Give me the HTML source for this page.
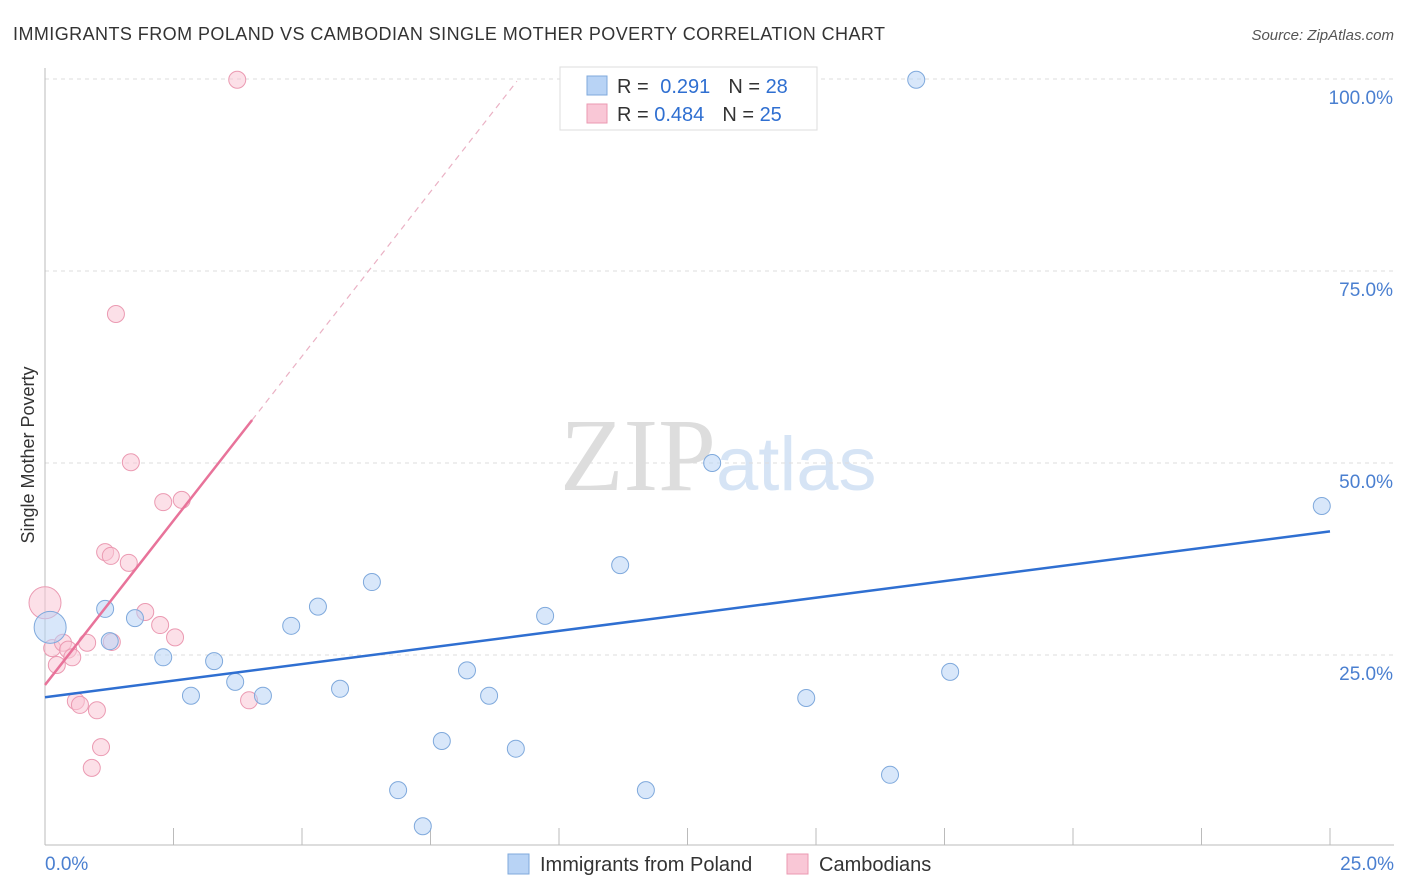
<!DOCTYPE html>
<html><head><meta charset="utf-8">
<style>
body{margin:0;background:#fff;font-family:"Liberation Sans",sans-serif;}
#wrap{position:relative;width:1406px;height:892px;overflow:hidden;}
</style></head>
<body>
<div id="wrap">
<svg id="svg" width="1406" height="892" xmlns="http://www.w3.org/2000/svg">
<text x="13" y="40" font-size="18" fill="#333" textLength="872" lengthAdjust="spacing">IMMIGRANTS FROM POLAND VS CAMBODIAN SINGLE MOTHER POVERTY CORRELATION CHART</text>
<text x="1394" y="40" font-size="15" fill="#555" font-style="italic" text-anchor="end">Source: ZipAtlas.com</text>
<text x="716" y="490" font-size="104" fill="#ddd" text-anchor="end" font-family="Liberation Serif">ZIP</text>
<text x="716" y="490" font-size="76" fill="#d6e4f5">atlas</text>
<text x="34" y="455" font-size="18" fill="#333" text-anchor="middle" transform="rotate(-90 34 455)">Single Mother Poverty</text>
<g id="grid"></g><g id="marks"></g>
<g>
<rect x="560" y="67" width="257" height="63" fill="#fff" stroke="#ddd"/>
<rect x="587" y="76" width="20" height="19" fill="#b8d3f5" stroke="#7fa9dc"/>
<rect x="587" y="104" width="20" height="19" fill="#f9c7d6" stroke="#eb9ab2"/>
<text x="617" y="93" font-size="20" fill="#333">R = <tspan fill="#2f6fd1" dx="6">0.291</tspan><tspan dx="18" fill="#333">N = </tspan><tspan fill="#2f6fd1">28</tspan></text>
<text x="617" y="121" font-size="20" fill="#333">R = <tspan fill="#2f6fd1">0.484</tspan><tspan dx="18" fill="#333">N = </tspan><tspan fill="#2f6fd1">25</tspan></text>
</g>
<g>
<rect x="508" y="854" width="21" height="20" fill="#b8d3f5" stroke="#7fa9dc"/>
<text x="540" y="871" font-size="20" fill="#333">Immigrants from Poland</text>
<rect x="787" y="854" width="21" height="20" fill="#f9c7d6" stroke="#eb9ab2"/>
<text x="819" y="871" font-size="20" fill="#333">Cambodians</text>
</g>
</svg>
</div>
<script>
const blueX=[0.1,1.17,1.26,1.75,2.3,2.84,3.29,3.7,4.24,4.79,5.31,5.74,6.36,6.87,7.35,7.72,8.21,8.64,9.16,9.73,11.19,11.69,12.98,14.81,16.44,16.95,17.61,24.84];
const blueY=[28.6,31.0,26.8,29.8,24.7,19.7,24.2,21.5,19.7,28.8,31.3,20.6,34.5,7.4,2.7,13.8,23.0,19.7,12.8,30.1,36.7,7.4,50.0,19.4,9.4,99.9,22.8,44.4];
const pinkX=[0,0.14,0.23,0.35,0.45,0.53,0.6,0.68,0.82,0.91,1.01,1.09,1.17,1.28,1.38,1.63,1.67,1.95,2.24,2.3,2.53,2.66,3.74,3.97,1.3];
const pinkY=[31.8,25.9,23.7,26.6,25.7,24.7,19.0,18.5,26.6,10.3,17.8,13.0,38.4,37.9,69.4,37.0,50.1,30.6,28.9,44.9,27.3,45.2,99.9,19.1,26.7];
const blueLine=[[0,19.5],[25,41.1]];
const pinkLine=[[0,21.1],[4.03,55.6]];
const pinkDash=[[4.03,55.6],[9.18,99.7]];
const yTicks=[25,50,75,100];
const yTickLabels=["25.0%","50.0%","75.0%","100.0%"];
const NS="http://www.w3.org/2000/svg";
const X=v=>45+v*51.4, Y=v=>847-v*7.68;
const grid=document.getElementById('grid'), marks=document.getElementById('marks');
function mk(tag,attrs,parent){const e=document.createElementNS(NS,tag);for(const k in attrs)e.setAttribute(k,attrs[k]);parent.appendChild(e);return e;}
yTicks.forEach((t,i)=>{
 const l=mk('line',{x1:45,x2:1394,y1:Y(t),y2:Y(t),stroke:'#ddd','stroke-dasharray':'4,4'},grid);
 
 
 const tx=mk('text',{x:1393,y:Y(t)+25,'font-size':19,fill:'#4a7fd0','text-anchor':'end'},grid);
 tx.textContent=yTickLabels[i];
 
 
});
const ax=mk('line',{x1:45,x2:1394,y1:845,y2:845,stroke:'#bbb'},grid);


const ay=mk('line',{x1:45,x2:45,y1:68,y2:845,stroke:'#bbb'},grid);


for(let i=0;i<=10;i++){const t=mk('line',{x1:X(i*2.5),x2:X(i*2.5),y1:828,y2:845,stroke:'#bbb'},grid);
 
 }
[["0.0%",45,'start'],["25.0%",1394,'end']].forEach(a=>{const t=mk('text',{x:a[1],y:870,'font-size':19,fill:'#4a7fd0','text-anchor':a[2]},grid);t.textContent=a[0];
 
 });
function pts(xs,ys,fill,stroke,name){xs.forEach((x,i)=>{const r=(i===0&&x<0.2)?16:8.5;
 const c=mk('circle',{cx:X(x),cy:Y(ys[i]),r:r,fill:fill,stroke:stroke,'fill-opacity':0.55},marks);
 
 });}
pts(pinkX,pinkY,'#f9c7d6','#eb9ab2','cambodian-point');
pts(blueX,blueY,'#b8d3f5','#7fa9dc','poland-point');
function ln(p,stroke,w,dash,name){const l=mk('line',{x1:X(p[0][0]),y1:Y(p[0][1]),x2:X(p[1][0]),y2:Y(p[1][1]),stroke:stroke,'stroke-width':w},marks);
 if(dash)l.setAttribute('stroke-dasharray',dash);
 
 }
ln(blueLine,'#2f6fd1',2.5,null,'poland-trendline');
ln(pinkLine,'#e8739a',2.5,null,'cambodian-trendline');
ln(pinkDash,'#eab1c4',1.2,'6,5','cambodian-trendline-extension');
</script>
</body></html>
